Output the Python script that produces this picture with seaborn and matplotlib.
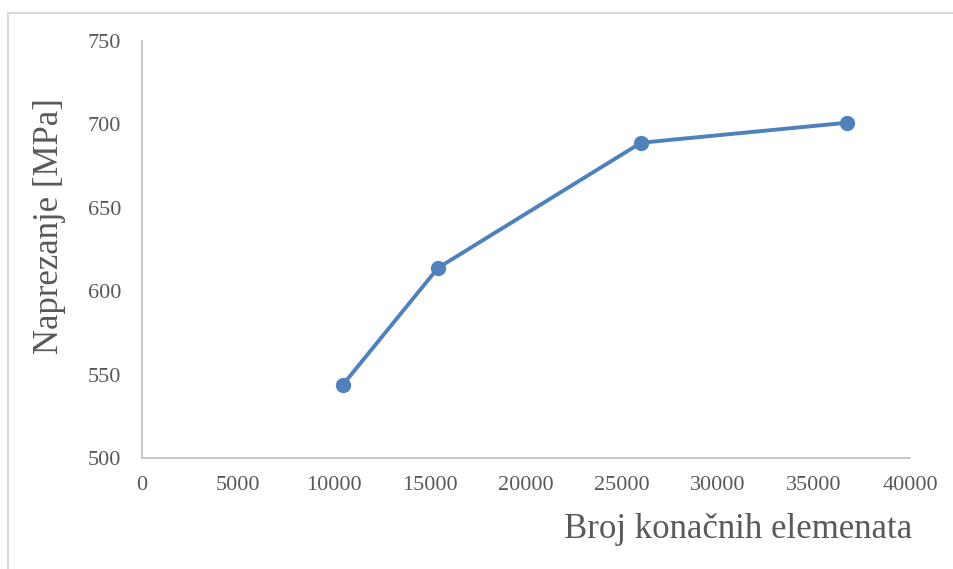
import pandas as pd
import matplotlib
matplotlib.use("Agg")
import matplotlib.pyplot as plt
import seaborn as sns
from matplotlib.lines import Line2D

# podaci očitani sa grafika
broj_elemenata = [10470, 15420, 25990, 36720]
naprezanje = [544, 614, 689, 701]
x_ticks = [0, 5000, 10000, 15000, 20000, 25000, 30000, 35000, 40000]
y_ticks = [500, 550, 600, 650, 700, 750]

PLAVA = "#4F81BD"
SIVA_TEKST = "#595959"
SIVA_OSA = "#BFBFBF"

sns.set_style("white")
plt.rcParams['font.family'] = ['Liberation Serif', 'DejaVu Serif']

df = pd.DataFrame({"elementi": broj_elemenata, "naprezanje": naprezanje})

fig = plt.figure(figsize=(9.54, 5.69), dpi=100)
ax = fig.add_axes([142 / 954, 1 - 458 / 569, (910 - 142) / 954, (458 - 41) / 569])

sns.lineplot(data=df, x="elementi", y="naprezanje", ax=ax, color=PLAVA,
             linewidth=2.8, marker="o", markersize=11, markeredgewidth=0,
             markerfacecolor=PLAVA)

ax.set_xlim(0, 40000)
ax.set_ylim(500, 750)
ax.set_xticks(x_ticks)
ax.set_yticks(y_ticks)
ax.tick_params(axis='both', length=0, labelsize=16, labelcolor=SIVA_TEKST)
ax.tick_params(axis='y', pad=15)
ax.tick_params(axis='x', pad=13)

for s in ["top", "right"]:
    ax.spines[s].set_visible(False)
for s in ["left", "bottom"]:
    ax.spines[s].set_color(SIVA_OSA)
    ax.spines[s].set_linewidth(1.2)

ax.set_xlabel("")
ax.set_ylabel("")
fig.text(738 / 954, 1 - 530 / 569, "Broj konačnih elemenata", fontsize=25,
         color=SIVA_TEKST, ha="center", va="center")
fig.text(50 / 954, 1 - 226 / 569, "Naprezanje [MPa]", fontsize=25,
         color=SIVA_TEKST, ha="center", va="center", rotation=90)

# okvir (samo gornja i lijeva ivica vidljive)
fig.add_artist(Line2D([8.5 / 954, 1], [1 - 12.5 / 569, 1 - 12.5 / 569],
                      transform=fig.transFigure, color="#D9D9D9", linewidth=1.5))
fig.add_artist(Line2D([8.5 / 954, 8.5 / 954], [0, 1 - 12.5 / 569],
                      transform=fig.transFigure, color="#D9D9D9", linewidth=1.5))

fig.savefig("out.png", dpi=100)
